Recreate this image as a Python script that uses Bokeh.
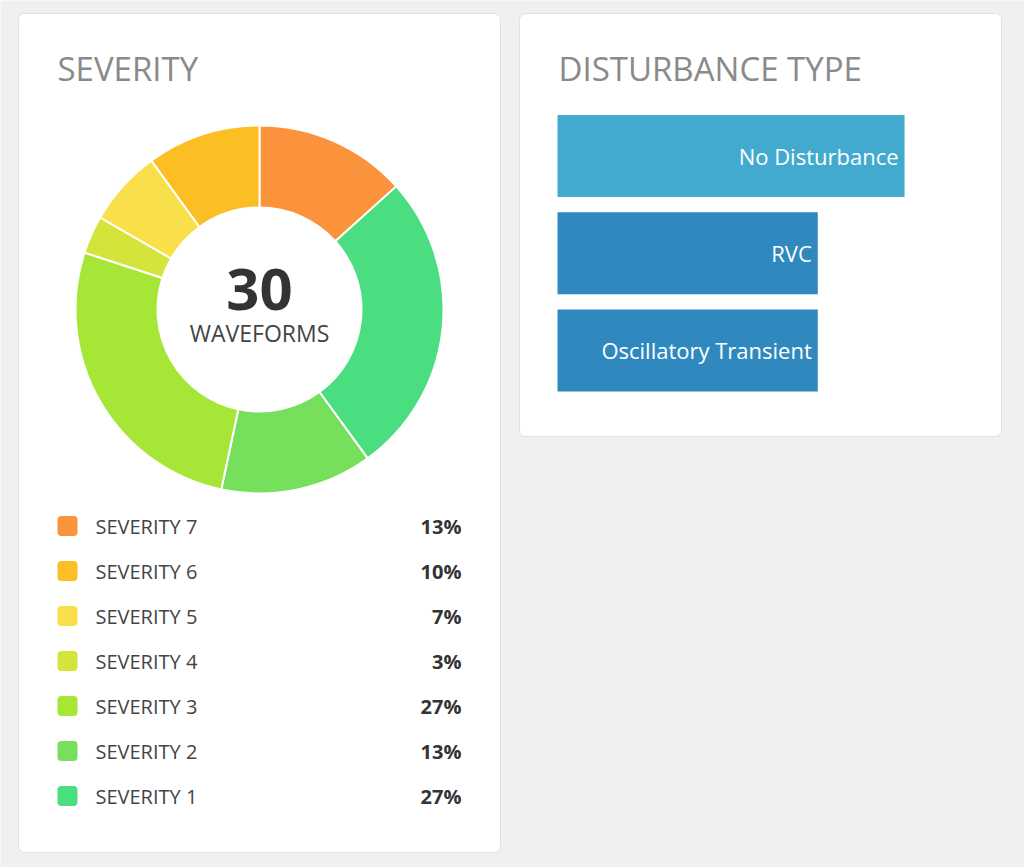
from bokeh.plotting import figure
from bokeh.models import Range1d, ColumnDataSource
from bokeh.core.properties import value
from bokeh.embed import file_html
from bokeh.resources import INLINE
import numpy as np

# ---------------- data ----------------
sev_labels = ["SEVERITY 7", "SEVERITY 6", "SEVERITY 5", "SEVERITY 4", "SEVERITY 3", "SEVERITY 2", "SEVERITY 1"]
sev_counts = [4, 3, 2, 1, 8, 4, 8]
sev_colors = ["#fb923c", "#fbbf24", "#f9df4a", "#d4e43a", "#a5e636", "#76e05c", "#4ade80"]
# clockwise order of slices starting at 12 o'clock
donut_order = ["SEVERITY 7", "SEVERITY 1", "SEVERITY 2", "SEVERITY 3", "SEVERITY 4", "SEVERITY 5", "SEVERITY 6"]

dist_types = ["No Disturbance", "RVC", "Oscillatory Transient"]
dist_counts = [12, 9, 9]
dist_colors = ["#43aacf", "#2f89bf", "#2f89bf"]

W, H = 1024, 867
FONT = "Open Sans"

p = figure(width=W, height=H, x_range=Range1d(0, W), y_range=Range1d(0, H),
           output_backend="svg", toolbar_location=None, min_border=0)
p.axis.visible = False
p.grid.visible = False
p.outline_line_color = None
p.background_fill_color = "#eff0f2"
p.border_fill_color = "#eff0f2"

def Y(sy):
    return H - sy

# cards
p.quad(left=[18, 519], right=[500, 1001], top=[Y(13), Y(13)], bottom=[Y(852), Y(436)],
       fill_color="white", line_color="#dfe1e4", line_width=1, border_radius=6)

# titles
p.text(x=[57, 558], y=[Y(68), Y(68)], text=["SEVERITY", "DISTURBANCE TYPE"],
       text_font=value(FONT), text_font_size="33px", text_color="#8a8a8a",
       text_baseline="middle", text_align="left")

# ---------------- donut ----------------
total = sum(sev_counts)
cnt = dict(zip(sev_labels, sev_counts))
col = dict(zip(sev_labels, sev_colors))
vals = np.array([cnt[k] for k in donut_order], dtype=float)
cum = np.concatenate([[0], np.cumsum(vals)])
frac_start = cum[:-1] / total
frac_end = cum[1:] / total
start_angle = np.pi / 2 - frac_end * 2 * np.pi
end_angle = np.pi / 2 - frac_start * 2 * np.pi
dsrc = ColumnDataSource(dict(start=start_angle, end=end_angle,
                             color=[col[k] for k in donut_order]))
cx, cy = 259, Y(309)
p.annular_wedge(x=cx, y=cy, inner_radius=102, outer_radius=184,
                start_angle="start", end_angle="end", source=dsrc,
                fill_color="color", line_color="white", line_width=2)

p.text(x=[cx], y=[Y(289)], text=[str(total)], text_font=value(FONT),
       text_font_size="58px", text_font_style="bold", text_color="#333333",
       text_align="center", text_baseline="middle")
p.text(x=[cx], y=[Y(332)], text=["WAVEFORMS"], text_font=value(FONT),
       text_font_size="23px", text_color="#444444",
       text_align="center", text_baseline="middle")

# ---------------- legend ----------------
idx = np.arange(len(sev_labels))
ly = Y(526 + 45 * idx)
pct = [f"{round(c / total * 100)}%" for c in sev_counts]
lsrc = ColumnDataSource(dict(y=ly, label=sev_labels, color=sev_colors, pct=pct))
p.rect(x=67, y=ly + 0.5, width=20, height=20, fill_color=sev_colors,
       line_color=None, border_radius=4)
p.text(x=95, y="y", text="label", source=lsrc, text_font=value(FONT),
       text_font_size="20px", text_color="#444444", text_baseline="middle")
p.text(x=461, y="y", text="pct", source=lsrc, text_font=value(FONT),
       text_font_size="20px", text_font_style="bold", text_color="#333333",
       text_baseline="middle", text_align="right")

# ---------------- bars ----------------
sub = p.subplot(x_source=Range1d(0, 14), y_source=Range1d(-0.5, 2.5),
                x_target=Range1d(557, 557 + 14 * 28.92),
                y_target=Range1d(Y(106.9), Y(398.6)))
bsrc = ColumnDataSource(dict(y=list(range(len(dist_types))), v=dist_counts,
                             name=dist_types, color=dist_colors))
sub.hbar(y="y", left=0, right="v", height=0.843, source=bsrc,
         fill_color="color", line_color=None)
sub.text(x="v", y="y", text="name", source=bsrc, x_offset=-6,
         text_font=value(FONT), text_font_size="22px", text_color="white",
         text_align="right", text_baseline="middle")

open("out.html", "w").write(file_html(p, INLINE))
